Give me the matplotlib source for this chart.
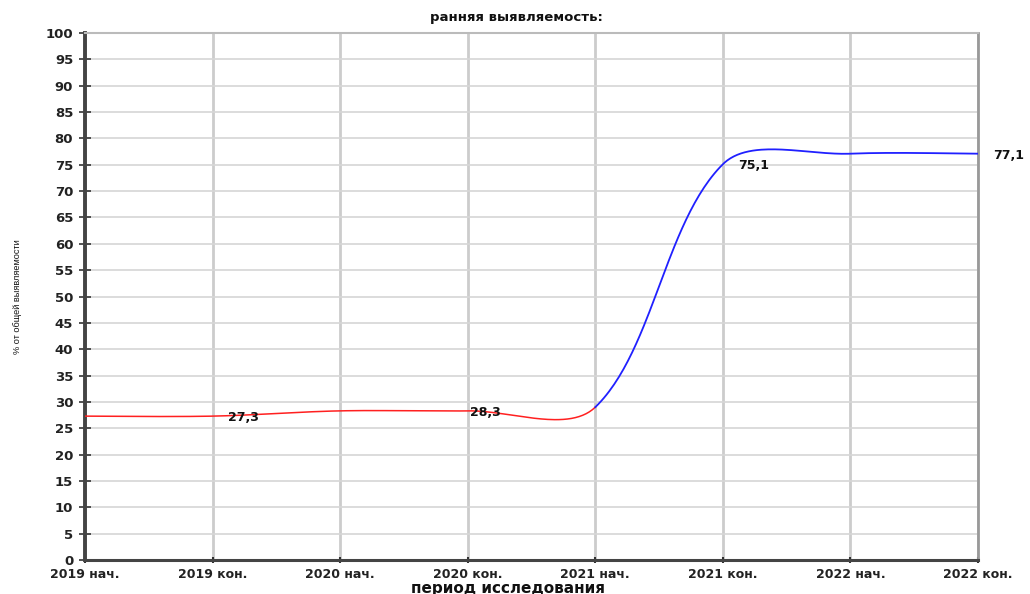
import numpy as np
import matplotlib.pyplot as plt

periods = ['2019 нач.', '2019 кон.', '2020 нач.', '2020 кон.',
           '2021 нач.', '2021 кон.', '2022 нач.', '2022 кон.']
detection = [27.3, 27.3, 28.3, 28.3, 29.0, 75.1, 77.1, 77.1]
labeled = [1, 3, 5, 7]   # points that carry a value label
split = 4                # red up to '2021 нач.', blue after


def smooth_segments(px, n=60):
    # Excel-like smoothed line: cubic Bezier per segment, tangents weighted by chord length
    px = np.asarray(px, float)
    m = len(px)
    seg = np.hypot(*np.diff(px, axis=0).T)
    c_out = np.zeros_like(px)
    c_in = np.zeros_like(px)
    for i in range(m):
        d = px[min(i + 1, m - 1)] - px[max(i - 1, 0)]
        lp = seg[i - 1] if i > 0 else seg[0]
        ln = seg[i] if i < m - 1 else seg[-1]
        c_out[i] = px[i] + d * ln / (lp + ln) / 3
        c_in[i] = px[i] - d * lp / (lp + ln) / 3
    t = np.linspace(0, 1, n)[:, None]
    out = []
    for k in range(m - 1):
        b = ((1 - t) ** 3 * px[k] + 3 * (1 - t) ** 2 * t * c_out[k]
             + 3 * (1 - t) * t ** 2 * c_in[k + 1] + t ** 3 * px[k + 1])
        out.append(b)
    return out


fig = plt.figure(figsize=(10.3, 5.94), dpi=100)
ax = fig.add_axes([85 / 1030, 34 / 594, 893 / 1030, 527 / 594])
x = np.arange(len(periods))
ax.set_xlim(0, len(periods) - 1)
ax.set_ylim(0, 100)

# build the curve in screen space, then map back to data
pts = ax.transData.transform(np.column_stack([x, detection]))
segs = smooth_segments(pts)
inv = ax.transData.inverted()
red = inv.transform(np.vstack(segs[:split]))
blue = inv.transform(np.vstack(segs[split:]))
ax.plot(red[:, 0], red[:, 1], color='#ff2020', lw=1.1, zorder=3)
ax.plot(blue[:, 0], blue[:, 1], color='#2020ff', lw=1.3, zorder=3)

offsets = {1: 11, 3: 1.5, 5: 11, 7: 11}
for i in labeled:
    ax.annotate(f'{detection[i]:.1f}'.replace('.', ','), (x[i], detection[i]),
                xytext=(offsets[i], -1), textcoords='offset points',
                ha='left', va='center', fontsize=9, fontweight='bold',
                color='#111111', annotation_clip=False, zorder=4)

ax.set_xticks(x)
ax.set_xticklabels(periods)
ax.set_yticks(np.arange(0, 101, 5))
ax.tick_params(axis='y', direction='inout', length=9, width=1.2, color='#333333',
               pad=4, labelsize=9.5, labelcolor='#222222')
ax.tick_params(axis='x', direction='inout', length=5, width=1.5, color='#333333',
               pad=3, labelsize=9, labelcolor='#222222')
for lab in ax.get_xticklabels() + ax.get_yticklabels():
    lab.set_fontweight('bold')

ax.grid(axis='y', color='#d6d6d6', lw=1.2)
ax.grid(axis='x', color='#cccccc', lw=2)
ax.set_axisbelow(True)

ax.spines['left'].set_color('#444444')
ax.spines['left'].set_linewidth(2.8)
ax.spines['bottom'].set_color('#444444')
ax.spines['bottom'].set_linewidth(2.2)
ax.spines['top'].set_color('#bbbbbb')
ax.spines['top'].set_linewidth(1.5)
ax.spines['right'].set_color('#999999')
ax.spines['right'].set_linewidth(2)

fig.text(516 / 1030, 1 - 18 / 594, 'ранняя выявляемость:', ha='center', va='center',
         fontsize=9.5, fontweight='bold', color='#111111')
fig.text(508 / 1030, 1 - 588 / 594, 'период исследования', ha='center', va='center',
         fontsize=11, fontweight='bold', color='#111111')
fig.text(18 / 1030, 1 - 297 / 594, '% от общей выявляемости', ha='center', va='center',
         rotation=90, fontsize=6.6, family='Liberation Sans', color='#111111')

fig.savefig('out.png', dpi=100)
